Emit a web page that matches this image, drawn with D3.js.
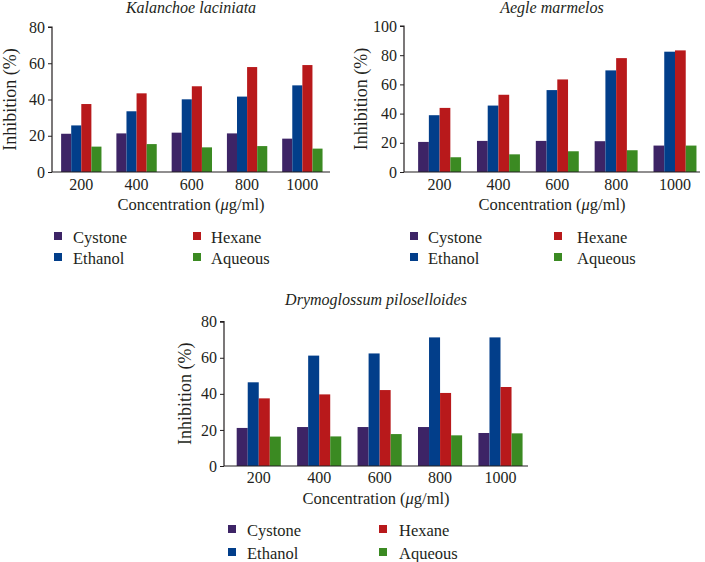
<!DOCTYPE html>
<html><head><meta charset="utf-8">
<script src="https://cdn.jsdelivr.net/npm/d3@7"></script>
<style>
body{margin:0;background:#fff;}
svg text{font-family:"Liberation Serif","DejaVu Serif",serif !important;fill:#231f20;}
</style></head>
<body><svg id="c" width="705" height="562"></svg>
<script>
const categories = ["200","400","600","800","1000"];
const seriesNames = ["Cystone","Ethanol","Hexane","Aqueous"];
const colors = ["#3d2466","#023e8a","#b8191b","#3b8a22"];

const kalanchoeCystone = [21.1,21.3,21.7,21.3,18.4];
const kalanchoeEthanol = [25.7,33.5,40.1,41.6,47.8];
const kalanchoeHexane  = [37.5,43.4,47.3,57.9,59.0];
const kalanchoeAqueous = [14.0,15.4,13.6,14.3,12.9];

const aegleCystone = [20.6,21.3,21.3,21.1,18.1];
const aegleEthanol = [38.9,45.5,56.1,69.6,82.4];
const aegleHexane  = [43.9,52.9,63.4,78.0,83.3];
const aegleAqueous = [10.1,12.1,14.2,14.9,18.1];

const drymCystone = [21.1,21.6,21.6,21.6,18.3];
const drymEthanol = [46.4,61.2,62.4,71.3,71.3];
const drymHexane  = [37.5,39.7,42.1,40.5,43.8];
const drymAqueous = [16.3,16.4,17.7,17.0,18.1];

const kalanchoeTicks = [0,20,40,60,80];
const aegleTicks = [0,20,40,60,80,100];
const drymTicks = [0,20,40,60,80];

const FONT = "'Liberation Serif','DejaVu Serif',serif";

const panels = [
  {title:"Kalanchoe laciniata", series:[kalanchoeCystone,kalanchoeEthanol,kalanchoeHexane,kalanchoeAqueous],
   ticks:kalanchoeTicks, ymax:80, x0:52, x1:330, yTop:27, yBot:172, align:0.55, ylabX:10,
   titleY:13, tickLabY:190, xTitleY:210, legY:[237,258], legX:[54,193], legTextX:[73,211]},
  {title:"Aegle marmelos", series:[aegleCystone,aegleEthanol,aegleHexane,aegleAqueous],
   ticks:aegleTicks, ymax:100, x0:404, x1:700, yTop:26, yBot:172, align:0.8, ylabX:361,
   titleY:13, tickLabY:190, xTitleY:210, legY:[237,258], legX:[410,554], legTextX:[428,577]},
  {title:"Drymoglossum piloselloides", series:[drymCystone,drymEthanol,drymHexane,drymAqueous],
   ticks:drymTicks, ymax:80, x0:224, x1:528, yTop:321.7, yBot:466, align:0.7, ylabX:185,
   titleY:305, tickLabY:483, xTitleY:504, legY:[530,553], legX:[228,379], legTextX:[247,399]}
];

const svg = d3.select("#c");

panels.forEach(p => {
  const g = svg.append("g").attr("font-family", FONT);
  const x = d3.scaleBand().domain(categories).range([p.x0, p.x1])
    .paddingInner(0.27).paddingOuter(0.15).align(p.align);
  const xs = d3.scaleBand().domain(seriesNames).range([0, x.bandwidth()]);
  const y = d3.scaleLinear().domain([0, p.ymax]).range([p.yBot, p.yTop]);

  // bars
  p.series.forEach((vals, si) => {
    g.selectAll(null).data(vals).enter().append("rect")
      .attr("x", (d,i) => x(categories[i]) + xs(seriesNames[si]))
      .attr("y", d => y(d))
      .attr("width", xs.bandwidth())
      .attr("height", d => y(0) - y(d))
      .attr("fill", colors[si]);
  });

  // y axis
  const ya = g.append("g").attr("transform", `translate(${p.x0},0)`)
    .call(d3.axisLeft(y).tickValues(p.ticks).tickSize(4).tickPadding(3).tickFormat(d3.format("d")));
  ya.attr("font-family", FONT).attr("font-size", 16);
  ya.select(".domain").attr("stroke","#231f20").attr("stroke-width",1.2).attr("d",`M-4,${p.yTop}H0V${p.yBot}`);
  ya.selectAll(".tick line").attr("stroke","#231f20");
  ya.selectAll(".tick text").style("font-family",FONT).style("font-size","16px").attr("fill","#231f20");

  // x axis line
  g.append("line").attr("x1",p.x0).attr("x2",p.x1).attr("y1",p.yBot).attr("y2",p.yBot)
    .attr("stroke","#231f20").attr("stroke-width",1.2);
  g.selectAll(null).data(categories).enter().append("text")
    .attr("x", d => x(d) + x.bandwidth()/2).attr("y", p.tickLabY)
    .attr("text-anchor","middle").style("font-family",FONT).style("font-size","16px").text(d => d);

  const cx = (p.x0 + p.x1)/2;
  g.append("text").attr("x", cx).attr("y", p.titleY).attr("text-anchor","middle")
    .style("font-family",FONT).style("font-size","16px").style("font-style","italic").text(p.title);

  const xt = g.append("text").attr("x", cx).attr("y", p.xTitleY).attr("text-anchor","middle")
    .style("font-family",FONT).style("font-size","16.5px");
  xt.append("tspan").text("Concentration (");
  xt.append("tspan").style("font-style","italic").text("μ");
  xt.append("tspan").text("g/ml)");

  g.append("text").attr("transform",`translate(${p.ylabX},${(p.yTop+p.yBot)/2}) rotate(-90)`)
    .attr("text-anchor","middle").attr("dominant-baseline","central")
    .style("font-family",FONT).style("font-size","18px").text("Inhibition (%)");

  // legend: order Cystone, Hexane (row1), Ethanol, Aqueous (row2)
  const legItems = [[0,0,0],[2,1,0],[1,0,1],[3,1,1]];
  legItems.forEach(([si,col,row]) => {
    g.append("rect").attr("x", p.legX[col]).attr("y", p.legY[row]-5).attr("width",8).attr("height",8).attr("fill",colors[si]);
    g.append("text").attr("x", p.legTextX[col]).attr("y", p.legY[row]).attr("dominant-baseline","central")
      .style("font-family",FONT).style("font-size","16.5px").text(seriesNames[si]);
  });
});
</script></body></html>
